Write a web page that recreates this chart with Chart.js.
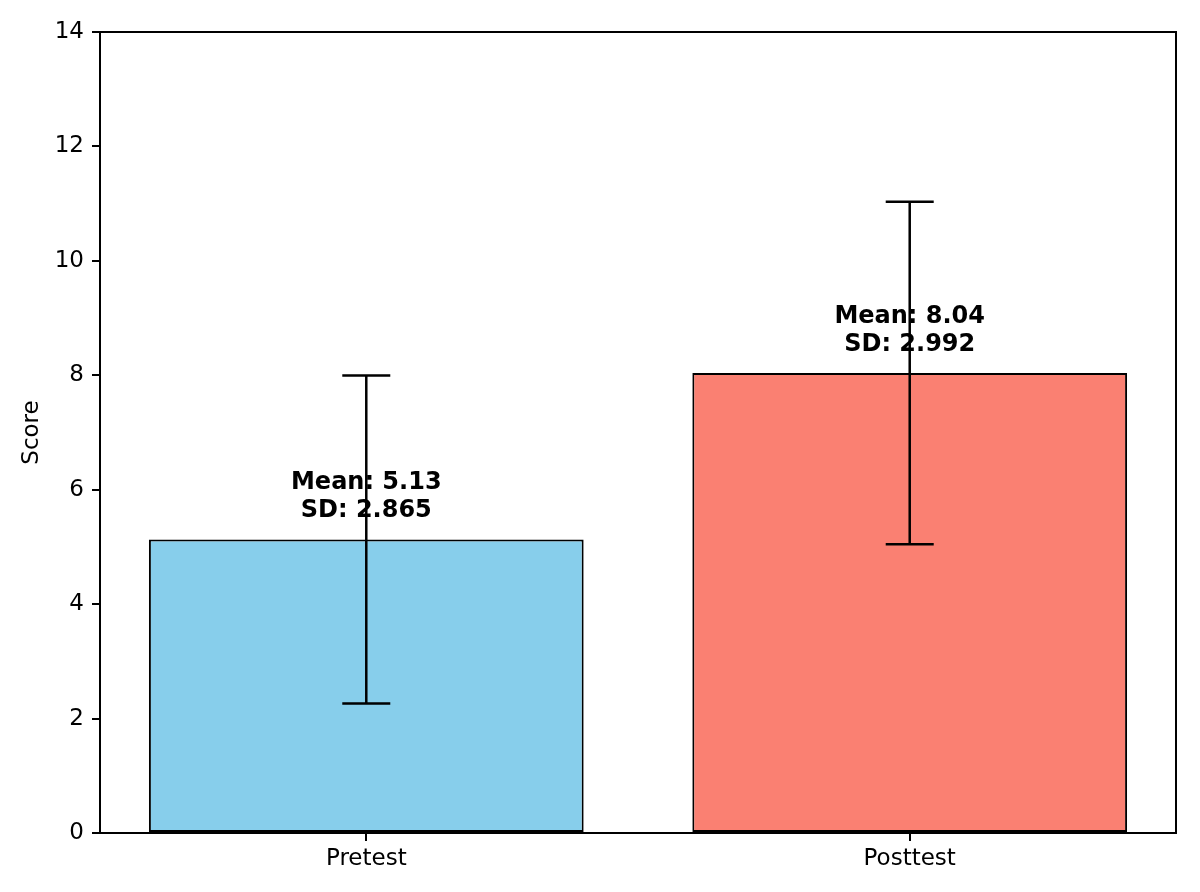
<!DOCTYPE html>
<html>
<head>
<meta charset="utf-8">
<script src="https://cdn.jsdelivr.net/npm/chart.js@4.4.0/dist/chart.umd.min.js"></script>
<style>
  html, body { margin: 0; padding: 0; background: #fff; }
  #wrap { width: 1200px; height: 892px; }
</style>
</head>
<body>
<div id="wrap"><canvas id="chart"></canvas></div>
<script>
const categories = ['Pretest', 'Posttest'];
const means = [5.13, 8.04];
const sds = [2.865, 2.992];
const barColors = ['#87CEEB', '#FA8072'];
const yTicks = [0, 2, 4, 6, 8, 10, 12, 14];

const FONT = 'DejaVu Sans';

// error bars + mean/sd labels on top of the bars
const errorBars = {
  id: 'errorBars',
  afterDatasetsDraw(chart) {
    const ctx = chart.ctx;
    const xs = chart.scales.x, ys = chart.scales.y;
    ctx.save();
    for (let i = 0; i < means.length; i++) {
      const x = xs.getPixelForValue(i);
      const top = ys.getPixelForValue(means[i] + sds[i]);
      const bot = ys.getPixelForValue(means[i] - sds[i]);
      ctx.strokeStyle = '#000';
      ctx.lineWidth = 2.5;
      ctx.beginPath();
      ctx.moveTo(x, top); ctx.lineTo(x, bot);
      ctx.moveTo(x - 24, top); ctx.lineTo(x + 24, top);
      ctx.moveTo(x - 24, bot); ctx.lineTo(x + 24, bot);
      ctx.stroke();

      const ty = ys.getPixelForValue(means[i] + 0.3) - 5;
      ctx.fillStyle = '#000';
      ctx.font = 'bold 24px "' + FONT + '"';
      ctx.textAlign = 'center';
      ctx.textBaseline = 'alphabetic';
      ctx.fillText('SD: ' + sds[i].toFixed(3), x, ty);
      ctx.fillText('Mean: ' + means[i].toFixed(2), x, ty - 28);
    }
    // frame around the axes
    const a = chart.chartArea;
    ctx.strokeStyle = '#000';
    ctx.lineWidth = 2;
    ctx.strokeRect(a.left, a.top, a.right - a.left, a.bottom - a.top);
    ctx.restore();
  }
};

new Chart(document.getElementById('chart'), {
  type: 'bar',
  data: {
    datasets: [{
      data: means.map((m, i) => ({ x: i, y: m })),
      backgroundColor: barColors,
      borderColor: '#000',
      borderWidth: 2,
      borderSkipped: false,
      barPercentage: 0.8,
      categoryPercentage: 1
    }]
  },
  options: {
    responsive: true,
    maintainAspectRatio: false,
    animation: false,
    layout: { padding: { top: 32, right: 24, left: 0, bottom: 0 } },
    plugins: {
      legend: { display: false },
      tooltip: { enabled: false }
    },
    scales: {
      x: {
        type: 'linear',
        min: -0.49,
        max: 1.49,
        offset: false,
        afterFit: (s) => { s.height = 59; },
        afterBuildTicks: (s) => { s.ticks = categories.map((c, i) => ({ value: i })); },
        grid: { display: true, offset: false, drawOnChartArea: false, drawTicks: true, tickLength: 8, color: '#000', lineWidth: 2 },
        border: { display: true, color: '#000', width: 2 },
        ticks: {
          color: '#000',
          padding: 4,
          maxRotation: 0,
          font: { family: FONT, size: 23 },
          callback: (v) => categories[v] || ''
        }
      },
      y: {
        min: 0,
        max: 14,
        afterFit: (s) => { s.width = 100; },
        afterBuildTicks: (s) => { s.ticks = yTicks.map(v => ({ value: v })); },
        grid: { display: true, drawOnChartArea: false, drawTicks: true, tickLength: 8, color: '#000', lineWidth: 2 },
        border: { display: true, color: '#000', width: 2 },
        title: {
          display: true,
          text: 'Score',
          color: '#000',
          font: { family: FONT, size: 23 },
          padding: { top: 18, bottom: 0 }
        },
        ticks: {
          color: '#000',
          padding: 8,
          font: { family: FONT, size: 23 }
        }
      }
    }
  },
  plugins: [errorBars]
});
</script>
</body>
</html>
